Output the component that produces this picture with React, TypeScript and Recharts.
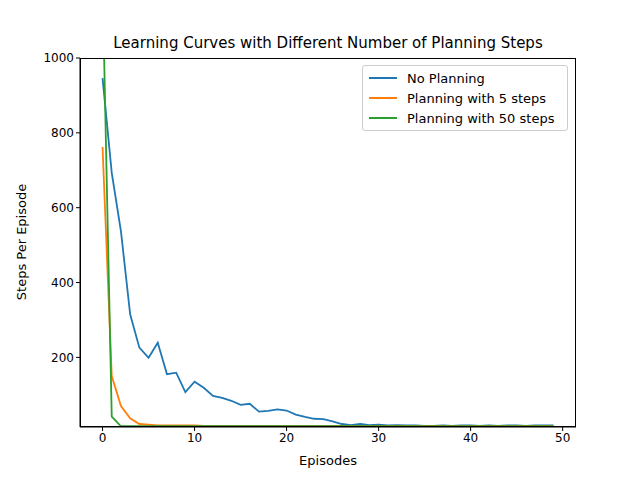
import React from 'react';
import { LineChart, Line, XAxis, YAxis } from 'recharts';

const noPlanning = [946,693,537,315,226,199,239,155,159,107,135,119,97,92,84,73,76,55,57,61,58,47,41,36,35,29,22,19,22,19,20,18,19,18,18,17,17,18,17,18,18,17,18,17,18,18,17,18,18,18];
const plan5 = [762,150,70,37,22,20,18,18,18,18,18,17,17,17,17,17,17,17,17,17,17,17,17,17,17,17,17,17,17,17,17,17,17,17,17,17,17,17,17,17,17,17,17,17,17,17,17,17,17,17];
const plan50 = [1200,42,16,16,16,16,16,16,16,16,16,16,16,16,16,16,16,16,16,16,16,16,16,16,16,16,16,16,16,16,16,16,16,16,16,16,16,16,16,16,16,16,16,16,16,16,16,16,16,16];
const xTicks = [0,10,20,30,40,50];
const yTicks = [200,400,600,800,1000];

const data = noPlanning.map((v, i) => ({ ep: i, a: v, b: plan5[i], c: plan50[i] }));
const font = 'DejaVu Sans';

const LegendBox = () => (
  <div style={{ position: 'absolute', left: 362, top: 65, width: 206, height: 66, border: '1px solid #ccc', borderRadius: 3, background: 'white', fontFamily: font, fontSize: 13, boxSizing: 'border-box', padding: '2px 6px' }}>
    {[['No Planning', '#1f77b4'], ['Planning with 5 steps', '#ff7f0e'], ['Planning with 50 steps', '#2ca02c']].map(([t, c]) => (
      <div key={t} style={{ display: 'flex', alignItems: 'center', height: 20 }}>
        <span style={{ display: 'inline-block', width: 28, height: 2, background: c, marginRight: 10 }} />
        <span>{t}</span>
      </div>
    ))}
  </div>
);

export default function App() {
  return (
    <div style={{ position: 'absolute', left: 0, top: 0, width: 640, height: 480, background: 'white' }}>
      <div style={{ position: 'absolute', top: 34, width: 656, textAlign: 'center', fontFamily: font, fontSize: 15 }}>
        Learning Curves with Different Number of Planning Steps
      </div>
      <LineChart width={640} height={480} data={data} margin={{ top: 58, right: 64, bottom: 23, left: 0 }}>
        <XAxis dataKey="ep" type="number" domain={[-2.45, 51.45]} ticks={xTicks} allowDataOverflow height={30}
          stroke="#000" tick={{ fill: '#000', fontFamily: font, fontSize: 12 }} tickSize={4} />
        <YAxis type="number" domain={[14, 1000]} ticks={yTicks} allowDataOverflow width={80}
          stroke="#000" tick={{ fill: '#000', fontFamily: font, fontSize: 12 }} tickSize={4} />
        <Line dataKey="a" stroke="#1f77b4" strokeWidth={1.8} dot={false} isAnimationActive={false} />
        <Line dataKey="b" stroke="#ff7f0e" strokeWidth={1.8} dot={false} isAnimationActive={false} />
        <Line dataKey="c" stroke="#2ca02c" strokeWidth={1.8} dot={false} isAnimationActive={false} />
      </LineChart>
      <div style={{ position: 'absolute', left: 80, top: 58, width: 496, height: 369, border: '1px solid #000', boxSizing: 'border-box', pointerEvents: 'none' }} />
      <div style={{ position: 'absolute', left: 80, top: 453, width: 496, textAlign: 'center', fontFamily: font, fontSize: 13 }}>Episodes</div>
      <div style={{ position: 'absolute', left: 21, top: 242, fontFamily: font, fontSize: 13, transform: 'translate(-50%, -50%) rotate(-90deg)', whiteSpace: 'nowrap' }}>Steps Per Episode</div>
      <LegendBox />
    </div>
  );
}
